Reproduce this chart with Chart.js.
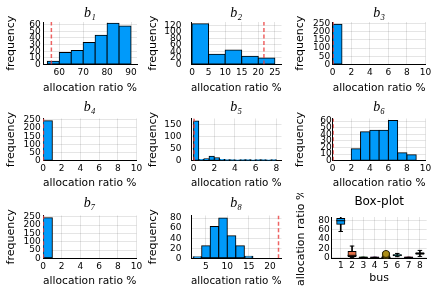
<!DOCTYPE html>
<html><head><meta charset="utf-8">
<script src="https://cdn.jsdelivr.net/npm/chart.js@4/dist/chart.umd.min.js"></script>
<style>
html,body{margin:0;padding:0;background:#fff;}
#wrap{position:relative;width:436px;height:291px;overflow:hidden;background:#fff;}
canvas{position:absolute;}
</style></head><body><div id="wrap"></div>
<script>
// ---------------- data ----------------
const b1Edges = [55, 60, 65, 70, 75, 80, 85, 90];
const b1Counts = [5, 18, 21, 33, 44, 62, 58];
const b1Ref = 56.7;
const b1XTicks = [60, 70, 80, 90];
const b1YTicks = [0, 10, 20, 30, 40, 50, 60];

const b2Edges = [0, 5, 10, 15, 20, 25];
const b2Counts = [125, 31, 44, 25, 20];
const b2Ref = 21.7;
const b2XTicks = [0, 5, 10, 15, 20, 25];
const b2YTicks = [0, 20, 40, 60, 80, 100, 120];

const b3Edges = [0, 1, 2, 3, 4, 5, 6, 7, 8, 9, 10];
const b3Counts = [245, 0, 0, 0, 0, 0, 0, 0, 0, 0];
const b3Ref = 0.05;

const b4Edges = [0, 1, 2, 3, 4, 5, 6, 7, 8, 9, 10];
const b4Counts = [244, 0, 0, 0, 0, 0, 0, 0, 0, 0];
const b4Ref = 0.05;

const b5Edges = [0, 0.5, 1, 1.5, 2, 2.5, 3, 3.5, 4, 4.5, 5, 5.5, 6, 6.5, 7, 7.5, 8];
const b5Counts = [165, 5, 8, 18, 12, 5, 4, 4, 3, 4, 4, 3, 4, 4, 3, 4];
const b5Ref = 0.05;
const b5XTicks = [0, 2, 4, 6, 8];
const b5YTicks = [0, 50, 100, 150];

const b6Edges = [0, 1, 2, 3, 4, 5, 6, 7, 8, 9, 10];
const b6Counts = [0, 0, 18, 44, 46, 46, 61, 12, 9, 0];
const b6Ref = 0.05;
const b6YTicks = [0, 10, 20, 30, 40, 50, 60];

const b7Edges = [0, 1, 2, 3, 4, 5, 6, 7, 8, 9, 10];
const b7Counts = [244, 0, 0, 0, 0, 0, 0, 0, 0, 0];
const b7Ref = 0.05;

const b8Edges = [2, 4, 6, 8, 10, 12, 14, 16];
const b8Counts = [3, 25, 63, 80, 45, 25, 4];
const b8Ref = 22;
const b8XTicks = [5, 10, 15, 20];
const b8YTicks = [0, 20, 40, 60, 80];

const zeroTenTicks = [0, 2, 4, 6, 8, 10];
const bigYTicks = [0, 50, 100, 150, 200, 250];

const busIds = [1, 2, 3, 4, 5, 6, 7, 8];
const boxLow = [56.5, 0, 0, 0, 0, 2, 0, 2.5];
const boxQ1 = [72.4, 2.4, 0, 0, 0.1, 4.0, 0, 7.1];
const boxMedian = [79.9, 4.9, 0.3, 0.3, 0.3, 5.2, 0.3, 8.8];
const boxQ3 = [84.8, 13.2, 1, 1, 1.8, 6.4, 1, 10.6];
const boxHigh = [89.5, 25, 1, 1, 4.4, 9, 1, 15.5];
const bus5Outliers = [4.7, 5.1, 5.6, 6.0, 6.5, 7.0, 7.4, 7.9];
const boxYTicks = [0, 20, 40, 60, 80];

// ---------------- layout / style ----------------
Chart.defaults.font.family = "'DejaVu Sans', sans-serif";
Chart.defaults.color = '#000';
const wrap = document.getElementById('wrap');
const palette = ['#009AFA', '#E36F47', '#3EA44E', '#C371D2', '#AC8E18', '#00A9AD', '#ED5E93', '#C68125'];
const TITLE_FONT = {family: "'Liberation Serif','DejaVu Serif',serif", style: 'italic', weight: 'normal', size: 14, lineHeight: 1};

const COLS = [
  {x: 0,   w: 145, left: 43,    right: 137,   yTitleOff: 11,  yTickPad: 2.3},
  {x: 145, w: 145, left: 191,   right: 281.5, yTitleOff: 8.3, yTickPad: 9.5},
  {x: 290, w: 146, left: 332.7, right: 425.5, yTitleOff: 10,  yTickPad: 2.5},
];
const ROWS = [
  {y: 0,   h: 97, top: 22,    bottom: 64.5,  titleC: 13.8,  xTitleOff: 9},
  {y: 97,  h: 96, top: 118.5, bottom: 160.7, titleC: 107.2, xTitleOff: 9.7},
  {y: 193, h: 98, top: 215.5, bottom: 258.3, titleC: 203.8, xTitleOff: 10.3},
];

function addCanvas(x, y, w, h) {
  const c = document.createElement('canvas');
  c.width = w; c.height = h;
  c.style.left = x + 'px'; c.style.top = y + 'px';
  c.style.width = w + 'px'; c.style.height = h + 'px';
  wrap.appendChild(c);
  return c;
}

function frame(g, s) {
  const tSize = s.titleFont.size;
  const tTop = g.titleC - g.y - tSize / 2;
  const tBottom = g.top - g.y - tTop - tSize;
  const mkGrid = () => ({color: 'rgba(0,0,0,0.1)', lineWidth: 1, drawTicks: false, offset: false});
  const mkBorder = () => ({display: true, color: '#000', width: 1});
  return {
    responsive: false, animation: false, devicePixelRatio: 1,
    layout: {padding: {left: 0, top: 0, bottom: 0, right: g.x + g.w - g.right}},
    plugins: {
      legend: {display: false}, tooltip: {enabled: false},
      title: {display: true, text: s.title, fullSize: false, color: '#000', font: s.titleFont,
              padding: {top: tTop, bottom: tBottom}}
    },
    scales: {
      x: {type: 'linear', min: s.xlim[0], max: s.xlim[1], offset: false, grid: mkGrid(), border: mkBorder(),
          afterBuildTicks: sc => { sc.ticks = s.xticks.map(v => ({value: v})); },
          afterFit: sc => { sc.height = g.y + g.h - g.bottom; },
          ticks: {autoSkip: false, maxRotation: 0, minRotation: 0, padding: s.xTickPad, color: '#000', font: {size: 9}},
          title: {display: true, text: s.xTitle, color: '#000', font: {size: 11, lineHeight: 1.2},
                  padding: {top: 0, bottom: g.xTitleOff - 6.6}}},
      y: {type: 'linear', min: s.ylim[0], max: s.ylim[1], grid: mkGrid(), border: mkBorder(),
          afterBuildTicks: sc => { sc.ticks = s.yticks.map(v => ({value: v})); },
          afterFit: sc => { sc.width = g.left - g.x; },
          ticks: {autoSkip: false, padding: s.yTickPad, color: '#000', font: {size: 9}},
          title: {display: true, text: s.yTitle, color: '#000', font: {size: 11, lineHeight: 1.2},
                  padding: {top: g.yTitleOff - 6.6, bottom: 0}}}
    }
  };
}

function hist(col, row, name, edges, counts, ref, xlim, ylim, xticks, yticks, yTickPad) {
  const g = Object.assign({}, COLS[col], ROWS[row]);
  const c = addCanvas(g.x, g.y, g.w, g.h);
  const centers = counts.map((_, i) => (edges[i] + edges[i + 1]) / 2);
  new Chart(c, {
    type: 'bar',
    data: {datasets: [
      {type: 'line', data: [{x: ref, y: ylim[0]}, {x: ref, y: ylim[1]}],
       borderColor: 'rgba(235,60,60,0.8)', borderWidth: 1.5, borderDash: [4, 2.5], pointRadius: 0, order: 0},
      {data: centers.map((x, i) => ({x: x, y: counts[i]})).filter(p => p.y > 0), backgroundColor: '#009AFA',
       borderColor: '#000', borderWidth: 1, borderSkipped: false, inflateAmount: 0.5,
       barPercentage: 1, categoryPercentage: 1, order: 1},
      {data: centers.map(x => ({x: x, y: 0})), backgroundColor: 'rgba(0,0,0,0)', borderWidth: 0,
       barPercentage: 1, categoryPercentage: 1, grouped: false, order: 2}
    ]},
    options: frame(g, {title: name, titleFont: TITLE_FONT, xlim, ylim, xticks, yticks,
      xTitle: 'allocation ratio %', yTitle: 'frequency', xTickPad: 2.8,
      yTickPad: yTickPad !== undefined ? yTickPad : g.yTickPad})
  });
}

hist(0, 0, 'b\u2081', b1Edges, b1Counts, b1Ref, [53.2, 92.5], [0, 64], b1XTicks, b1YTicks);
hist(1, 0, 'b\u2082', b2Edges, b2Counts, b2Ref, [-0.3, 27], [0, 130], b2XTicks, b2YTicks);
hist(2, 0, 'b\u2083', b3Edges, b3Counts, b3Ref, [0, 10], [0, 258], zeroTenTicks, bigYTicks);
hist(0, 1, 'b\u2084', b4Edges, b4Counts, b4Ref, [0, 10], [0, 258], zeroTenTicks, bigYTicks);
hist(1, 1, 'b\u2085', b5Edges, b5Counts, b5Ref, [-0.25, 8.5], [0, 175], b5XTicks, b5YTicks);
hist(2, 1, 'b\u2086', b6Edges, b6Counts, b6Ref, [0, 10], [0, 64], zeroTenTicks, b6YTicks, 1);
hist(0, 2, 'b\u2087', b7Edges, b7Counts, b7Ref, [0, 10], [0, 258], zeroTenTicks, bigYTicks);
hist(1, 2, 'b\u2088', b8Edges, b8Counts, b8Ref, [1.5, 22.7], [0, 85], b8XTicks, b8YTicks);

// ---------------- box plot ----------------
(function () {
  const g = Object.assign({}, COLS[2], ROWS[2],
    {left: 331.7, right: 426.7, top: 217, bottom: 258.5, titleC: 202, xTitleOff: 12.5, yTitleOff: 11.5});
  const c = addCanvas(g.x, g.y, g.w, g.h);
  const opts = frame(g, {title: 'Box-plot', titleFont: {family: "'DejaVu Sans',sans-serif", size: 12, weight: 'normal', lineHeight: 1},
    xlim: [0.2, 8.6], ylim: [-2, 88], xticks: busIds, yticks: boxYTicks,
    xTitle: 'bus', yTitle: 'allocation ratio %', xTickPad: 2.1, yTickPad: 2});
  new Chart(c, {
    type: 'bar',
    data: {datasets: [
      {type: 'bar', data: busIds.map((x, i) => ({x: x, y: [boxLow[i], boxHigh[i]]})),
       backgroundColor: '#000', barThickness: 1, grouped: false, order: 4},
      {type: 'bar', data: busIds.map((x, i) => ({x: x, y: [boxQ1[i], boxQ3[i]]})),
       backgroundColor: palette, borderColor: '#000', borderWidth: 1, borderSkipped: false,
       barThickness: 8, inflateAmount: 0.5, grouped: false, order: 3},
      {type: 'scatter', data: busIds.flatMap((x, i) => [{x: x, y: boxLow[i]}, {x: x, y: boxHigh[i]}]),
       pointStyle: 'line', pointRadius: 2.25, borderColor: '#000', borderWidth: 1, order: 2},
      {type: 'scatter', data: busIds.map((x, i) => ({x: x, y: boxMedian[i]})),
       pointStyle: 'line', pointRadius: 4.5, borderColor: '#000', borderWidth: 1, order: 1},
      {type: 'scatter', data: bus5Outliers.map(v => ({x: 5, y: v})),
       pointStyle: 'circle', pointRadius: 3.5, backgroundColor: palette[4], borderColor: '#000', borderWidth: 0.6, order: 0}
    ]},
    options: opts
  });
})();
</script>
</body></html>
